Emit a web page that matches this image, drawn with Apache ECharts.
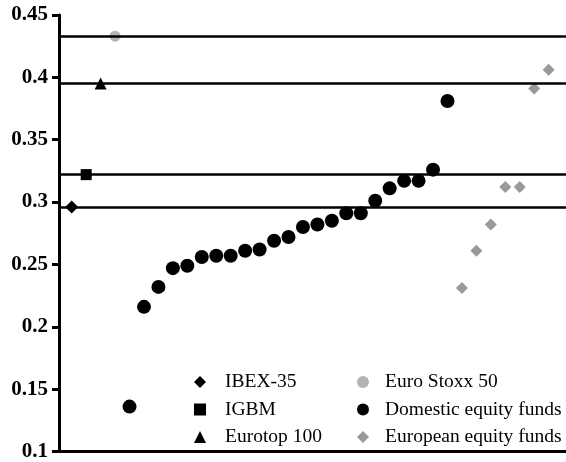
<!DOCTYPE html>
<html>
<head>
<meta charset="utf-8">
<script src="https://cdn.jsdelivr.net/npm/echarts@6/dist/echarts.min.js"></script>
<style>
  html, body { margin: 0; padding: 0; background: #fff; }
  #chart { width: 566px; height: 462px; }
</style>
</head>
<body>
<div id="chart"></div>
<script>
// Benchmark indices (one point each, also drawn as reference lines)
const benchNames = ['IBEX-35', 'IGBM', 'Eurotop 100', 'Euro Stoxx 50'];
const benchValues = [0.296, 0.322, 0.395, 0.433];

// Fund groups, sorted ascending
const domesticName = 'Domestic equity funds';
const domesticFunds = [0.136, 0.216, 0.232, 0.247, 0.249, 0.256, 0.257, 0.257, 0.261, 0.262,
                       0.269, 0.272, 0.280, 0.282, 0.285, 0.291, 0.291, 0.301, 0.311, 0.317,
                       0.317, 0.326, 0.381];
const europeanName = 'European equity funds';
const europeanFunds = [0.231, 0.261, 0.282, 0.312, 0.312, 0.391, 0.406];

// Value axis range
const yMin = 0.1, yMax = 0.45, yStep = 0.05;

const FONT = '"Liberation Serif", "Times New Roman", serif';

// Points are placed one after another along the horizontal axis
let pos = 1;
const benchData = benchValues.map(v => [pos++, v]);
const domesticData = domesticFunds.map(v => [pos++, v]);
const europeanData = europeanFunds.map(v => [pos++, v]);

const benchStyles = [
  { symbol: 'diamond', size: 13, color: '#000' },
  { symbol: 'rect', size: 11, color: '#000' },
  { symbol: 'triangle', size: 12, color: '#000' },
  { symbol: 'circle', size: 11, color: '#b3b3b3' }
];

const series = benchNames.map((name, i) => ({
  name,
  type: 'scatter',
  symbol: benchStyles[i].symbol,
  symbolSize: benchStyles[i].size,
  itemStyle: { color: benchStyles[i].color, opacity: 1 },
  data: [benchData[i]],
  z: 3
}));

series.push({
  name: domesticName,
  type: 'scatter',
  symbol: 'circle',
  symbolSize: 14,
  itemStyle: { color: '#000', opacity: 1 },
  data: domesticData,
  z: 3
});
series.push({
  name: europeanName,
  type: 'scatter',
  symbol: 'diamond',
  symbolSize: 12,
  itemStyle: { color: '#999999', opacity: 1 },
  data: europeanData,
  z: 3
});

// Horizontal reference lines at each benchmark level
series.push({
  name: 'levels',
  type: 'line',
  data: [],
  z: 1,
  markLine: {
    silent: true,
    symbol: 'none',
    precision: 4,
    label: { show: false },
    lineStyle: { color: '#000', width: 2.5, type: 'solid', opacity: 1 },
    data: benchValues.map(v => ({ yAxis: v }))
  }
});

const legendCommon = {
  orient: 'vertical',
  top: 367,
  itemWidth: 12,
  itemHeight: 12,
  itemGap: 7.5,
  selectedMode: false,
  itemStyle: { opacity: 1 }
};
const legendText = (padLeft) => ({
  fontFamily: FONT, fontSize: 19.5, color: '#000', lineHeight: 20, padding: [0, 0, 0, padLeft]
});

const chart = echarts.init(document.getElementById('chart'), null, { renderer: 'canvas' });
chart.setOption({
  animation: false,
  backgroundColor: '#fff',
  grid: { left: 59, right: 0, top: 15, bottom: 10 },
  xAxis: {
    type: 'value',
    min: 0.12,
    max: 35.2,
    axisLine: { show: true, onZero: false, lineStyle: { color: '#000', width: 3 } },
    axisTick: { show: false },
    axisLabel: { show: false },
    splitLine: { show: false }
  },
  yAxis: {
    type: 'value',
    min: yMin,
    max: yMax,
    interval: yStep,
    axisLine: { show: true, lineStyle: { color: '#000', width: 3 } },
    axisTick: { show: true, length: 7, lineStyle: { color: '#000', width: 3 } },
    axisLabel: {
      margin: 11,
      fontFamily: FONT,
      fontWeight: 'bold',
      fontSize: 21,
      color: '#000'
    },
    splitLine: { show: false }
  },
  legend: [
    Object.assign({}, legendCommon, {
      left: 189, textStyle: legendText(14), data: benchNames.slice(0, 3)
    }),
    Object.assign({}, legendCommon, {
      left: 352, textStyle: legendText(11), data: [benchNames[3], domesticName, europeanName]
    })
  ],
  series
});
</script>
</body>
</html>
